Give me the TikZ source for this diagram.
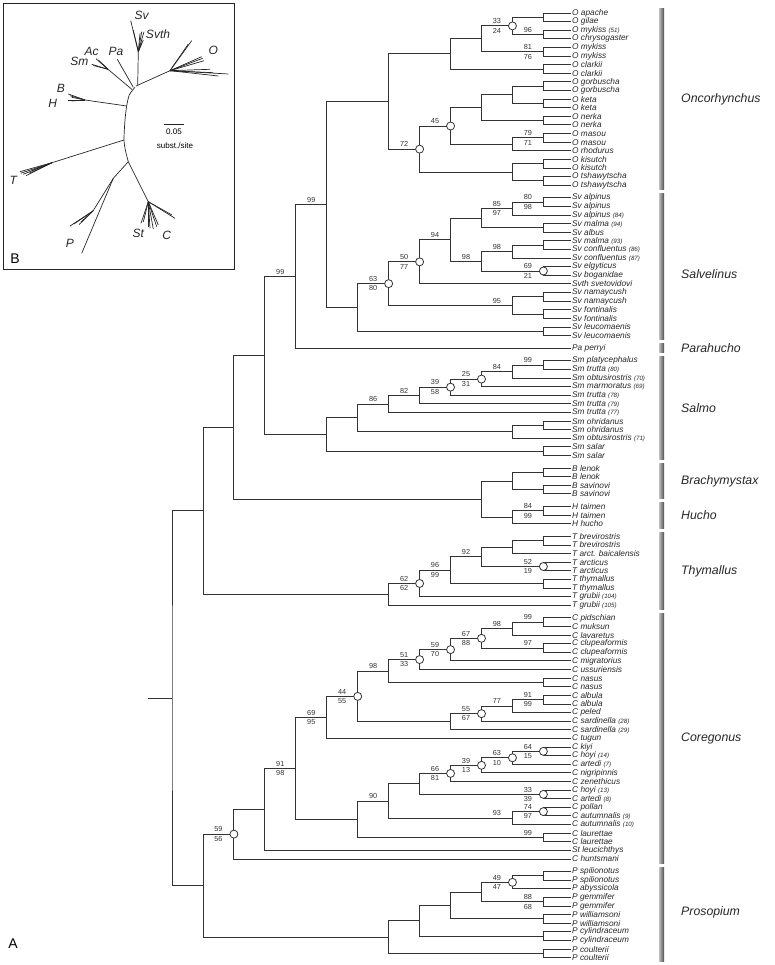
\documentclass[tikz,border=0pt]{standalone}
\usepackage{fontspec}
\setmainfont{Liberation Sans}
\usetikzlibrary{calc}

\newcommand{\leaffont}{\fontsize{8.3}{9}\selectfont\itshape}
\newcommand{\bsfont}{\fontsize{7.3}{8}\selectfont}
\newcommand{\genusfont}{\fontsize{12.3}{14}\selectfont\itshape}
\newcommand{\insetfont}{\fontsize{12}{14}\selectfont\itshape}
\newcommand{\tagnum}[1]{{\fontsize{6.2}{7}\selectfont(#1)}}
% clade: name, level, upper child, lower child
\newcommand{\clade}[4]{%
  \path let \p1=(#3), \p2=(#4) in (172pt+30.95pt*#2,{0.5*(\y1)+0.5*(\y2)}) coordinate (#1);
  \draw[br] (#3) -| (#1) |- (#4);}
\newcommand{\bsl}[3]{%
  \node[bs] (#1a) at ([xshift=-15.5pt,yshift=4.8pt]#1) {#2};
  \node[bs] (#1b) at ([xshift=-15.5pt,yshift=-4.8pt]#1) {#3};}
\newcommand{\bst}[2]{\node[bs] (#1a) at ([xshift=-15.5pt,yshift=4.8pt]#1) {#2};}

\begin{document}
\begin{tikzpicture}[x=1pt,y=-1pt,
  br/.style={line width=0.9pt, draw=black!80},
  leaf/.style={anchor=west, inner sep=1pt, font=\leaffont, text=black!85},
  bs/.style={inner sep=0pt, font=\bsfont, text=black!80},
  bsdot/.style={circle, draw=black!80, fill=white, line width=0.8pt, minimum size=8pt, inner sep=0pt},
  gbar/.style={left color=black!25, right color=black!70},
  genus/.style={anchor=west, inner sep=0pt, font=\genusfont, text=black!85},
  twig/.style={line width=0.7pt, draw=black!85},
  lab/.style={inner sep=0pt, font=\insetfont, text=black!85},
]
\useasboundingbox (0,0) rectangle (774,965);

% leaves, with a small gap between genera
\foreach \leafname [count=\i from 0] in {O apache, O gilae, O mykiss \tagnum{51}, O chrysogaster,
  O mykiss, O mykiss, O clarkii, O clarkii, O gorbuscha, O gorbuscha, O keta, O keta,
  O nerka, O nerka, O masou, O masou, O rhodurus, O kisutch, O kisutch, O tshawytscha,
  O tshawytscha, Sv alpinus, Sv alpinus, Sv alpinus \tagnum{84}, Sv malma \tagnum{94},
  Sv albus, Sv malma \tagnum{93}, Sv confluentus \tagnum{86}, Sv confluentus \tagnum{87},
  Sv elgyticus, Sv boganidae, Svth svetovidovi, Sv namaycush, Sv namaycush, Sv fontinalis,
  Sv fontinalis, Sv leucomaenis, Sv leucomaenis, Pa perryi, Sm platycephalus,
  Sm trutta \tagnum{80}, Sm obtusirostris \tagnum{70}, Sm marmoratus \tagnum{69},
  Sm trutta \tagnum{78}, Sm trutta \tagnum{79}, Sm trutta \tagnum{77}, Sm ohridanus,
  Sm ohridanus, Sm obtusirostris \tagnum{71}, Sm salar, Sm salar, B lenok, B lenok,
  B savinovi, B savinovi, H taimen, H taimen, H hucho, T brevirostris, T brevirostris,
  T arct. baicalensis, T arcticus, T arcticus, T thymallus, T thymallus, T grubii \tagnum{104},
  T grubii \tagnum{105}, C pidschian, C muksun, C lavaretus, C clupeaformis, C clupeaformis,
  C migratorius, C ussuriensis, C nasus, C nasus, C albula, C albula, C peled,
  C sardinella \tagnum{28}, C sardinella \tagnum{29}, C tugun, C kiyi, C hoyi \tagnum{14},
  C artedi \tagnum{7}, C nigripinnis, C zenethicus, C hoyi \tagnum{13}, C artedi \tagnum{8},
  C pollan, C autumnalis \tagnum{9}, C autumnalis \tagnum{10}, C laurettae, C laurettae,
  St leucichthys, C huntsmani, P spilionotus, P spilionotus, P abyssicola, P gemmifer,
  P gemmifer, P williamsoni, P williamsoni, P cylindraceum, P cylindraceum, P coulterii,
  P coulterii}
  \node[leaf] (l\i) at (571,{13+8.61*\i+4*((\i>=21)+(\i>=38)+(\i>=39)+(\i>=51)+(\i>=55)+(\i>=58)+(\i>=67)+(\i>=96))}) {\leafname};

% Oncorhynchus
\clade{c01}{12}{l0}{l1}
\clade{c23}{12}{l2}{l3}
\clade{oA1}{11}{c01}{c23}
\clade{c45}{12}{l4}{l5}
\clade{oA2}{10}{oA1}{c45}
\clade{c67}{12}{l6}{l7}
\clade{oA3}{9}{oA2}{c67}
\clade{c89}{12}{l8}{l9}
\clade{c1011}{12}{l10}{l11}
\clade{oC1}{11}{c89}{c1011}
\clade{c1213}{12}{l12}{l13}
\clade{oC2}{10}{oC1}{c1213}
\clade{c1415}{12}{l14}{l15}
\clade{oD}{11}{c1415}{l16}
\clade{o45}{9}{oC2}{oD}
\clade{c1718}{12}{l17}{l18}
\clade{c1920}{12}{l19}{l20}
\clade{oE}{11}{c1718}{c1920}
\clade{o72}{8}{o45}{oE}
\clade{oB}{7}{oA3}{o72}
% Salvelinus
\clade{c2122}{12}{l21}{l22}
\clade{s85}{11}{c2122}{l23}
\clade{c2425}{12}{l24}{l25}
\clade{s10}{10}{s85}{c2425}
\clade{c2627}{12}{l26}{l27}
\clade{s98a}{11}{c2627}{l28}
\clade{c2930}{12}{l29}{l30}
\clade{s98b}{10}{s98a}{c2930}
\clade{s94}{9}{s10}{s98b}
\clade{s50}{8}{s94}{l31}
\clade{c3233}{12}{l32}{l33}
\clade{c3435}{12}{l34}{l35}
\clade{s95}{11}{c3233}{c3435}
\clade{s63}{7}{s50}{s95}
\clade{c3637}{12}{l36}{l37}
\clade{s0}{6}{s63}{c3637}
\clade{os}{5}{oB}{s0}
\clade{pos}{4}{os}{l38}
% Salmo
\clade{c3940}{12}{l39}{l40}
\clade{m84}{11}{c3940}{l41}
\clade{m25}{10}{m84}{l42}
\clade{m39}{9}{m25}{l43}
\clade{m82}{8}{m39}{l44}
\clade{m86}{7}{m82}{l45}
\clade{c4647}{12}{l46}{l47}
\clade{mN}{11}{c4647}{l48}
\clade{m1}{6}{m86}{mN}
\clade{c4950}{12}{l49}{l50}
\clade{m0}{5}{m1}{c4950}
\clade{n3}{3}{pos}{m0}
% Brachymystax, Hucho
\clade{c5152}{12}{l51}{l52}
\clade{c5354}{12}{l53}{l54}
\clade{b0}{11}{c5152}{c5354}
\clade{c5556}{12}{l55}{l56}
\clade{h0}{11}{c5556}{l57}
\clade{bh}{10}{b0}{h0}
\clade{n2}{2}{n3}{bh}
% Thymallus
\clade{c5859}{12}{l58}{l59}
\clade{t1}{11}{c5859}{l60}
\clade{c6162}{12}{l61}{l62}
\clade{t92}{10}{t1}{c6162}
\clade{c6364}{12}{l63}{l64}
\clade{t96}{9}{t92}{c6364}
\clade{t62}{8}{t96}{l65}
\clade{t0}{7}{t62}{l66}
\clade{n1}{1}{n2}{t0}
% Coregonus
\clade{c6768}{12}{l67}{l68}
\clade{g98}{11}{c6768}{l69}
\clade{c7071}{12}{l70}{l71}
\clade{g67}{10}{g98}{c7071}
\clade{g59}{9}{g67}{l72}
\clade{g51}{8}{g59}{l73}
\clade{c7475}{12}{l74}{l75}
\clade{g98b}{7}{g51}{c7475}
\clade{c7677}{12}{l76}{l77}
\clade{g77}{11}{c7677}{l78}
\clade{g55}{10}{g77}{l79}
\clade{g9}{9}{g55}{l80}
\clade{g44}{6}{g98b}{g9}
\clade{g5}{5}{g44}{l81}
\clade{c8283}{12}{l82}{l83}
\clade{g63}{11}{c8283}{l84}
\clade{g39}{10}{g63}{l85}
\clade{g66}{9}{g39}{l86}
\clade{c8788}{12}{l87}{l88}
\clade{g8}{8}{g66}{c8788}
\clade{c8990}{12}{l89}{l90}
\clade{g93}{11}{c8990}{l91}
\clade{g90}{7}{g8}{g93}
\clade{c9293}{12}{l92}{l93}
\clade{g6}{6}{g90}{c9293}
\clade{g4}{4}{g5}{g6}
\clade{g3}{3}{g4}{l94}
\clade{gC}{2}{g3}{l95}
% Prosopium
\clade{c9697}{12}{l96}{l97}
\clade{p49}{11}{c9697}{l98}
\clade{c99100}{12}{l99}{l100}
\clade{p10}{10}{p49}{c99100}
\clade{c101102}{12}{l101}{l102}
\clade{p9}{9}{p10}{c101102}
\clade{c103104}{12}{l103}{l104}
\clade{p8}{8}{p9}{c103104}
\clade{c105106}{12}{l105}{l106}
\clade{p7}{7}{p8}{c105106}
\clade{cp}{1}{gC}{p7}
\clade{root}{0}{n1}{cp}
\coordinate (stem) at ([xshift=-24pt]root);
\draw[br] (stem) -- (root);

% open circles
\foreach \n in {oA1,o45,o72,s50,s63,c2930,m25,m39,c6162,t62,g67,g59,g51,g55,g44,
  c8283,g63,g39,g66,c8788,c8990,gC,p49}
  \node[bsdot] (\n o) at (\n) {};

% support values
\bsl{oA1}{33}{24} \bst{c23}{96} \bsl{c45}{81}{76} \bst{o45}{45} \bst{o72}{72}
\bsl{c1415}{79}{71}
\bsl{c2122}{80}{98} \bsl{s85}{85}{97} \bst{s98a}{98} \bst{s98b}{98} \bsl{c2930}{69}{21}
\bst{s94}{94} \bsl{s50}{50}{77} \bst{s95}{95} \bsl{s63}{63}{80} \bst{os}{99} \bst{pos}{99}
\bst{c3940}{99} \bst{m84}{84} \bsl{m25}{25}{31} \bsl{m39}{39}{58} \bst{m82}{82} \bst{m86}{86}
\bsl{c5556}{84}{99}
\bst{t92}{92} \bsl{c6162}{52}{19} \bsl{t96}{96}{99} \bsl{t62}{62}{62}
\bst{c6768}{99} \bst{g98}{98} \bst{c7071}{97} \bsl{g67}{67}{88} \bsl{g59}{59}{70}
\bsl{g51}{51}{33} \bst{g98b}{98} \bsl{c7677}{91}{99} \bst{g77}{77} \bsl{g55}{55}{67}
\bsl{g44}{44}{55} \bsl{g5}{69}{95} \bsl{c8283}{64}{15} \bsl{g63}{63}{10} \bsl{g39}{39}{13}
\bsl{g66}{66}{81} \bsl{c8788}{33}{39} \bsl{c8990}{74}{97} \bst{g93}{93} \bst{g90}{90}
\bst{c9293}{99} \bsl{g4}{91}{98} \bsl{gC}{59}{56}
\bsl{p49}{49}{47} \bsl{c99100}{88}{68}

% genus bars
\foreach \a/\b/\g/\gy in {0/20/Oncorhynchus/99, 21/37/Salvelinus/274, 38/38/Parahucho/348,
  39/50/Salmo/408, 51/54/Brachymystax/481, 55/57/Hucho/515, 58/66/Thymallus/571,
  67/95/Coregonus/738, 96/106/Prosopium/912} {
  \fill[gbar] let \p1=(l\a), \p2=(l\b) in (659pt,{\y1+4.3pt}) rectangle (664pt,{\y2-4.3pt});
  \node[genus] (\g) at (681,\gy) {\g};
}

% panel B
\draw[line width=0.8pt, black!85] (3.5,3.5) rectangle (234,269);
\draw[twig] plot[smooth] coordinates {(135,87.3) (129.3,95) (126.7,106) (125,120) (124,140) (125.7,151.7) (128.3,161.7)};
\draw[twig] (136,86) -- (170,70.7);
\foreach \p in {(191.7,40.7),(188.3,44),(201.7,56.7),(202.7,58.3),(204,60.7),(210,69.3),(228.3,74),(218.3,76),(213.3,72.7)}
  \draw[twig] (170,70.7) -- \p;
\draw[twig] (137.7,85) -- (138.3,51.7);
\foreach \p in {(130.7,20.7),(133.3,30),(140,33.3),(141.7,31.7),(144,31.7),(143.3,40),(141.7,42.7)}
  \draw[twig] (138.3,51.7) -- \p;
\draw[twig] (133.3,87.3) -- (117.3,59.3);
\draw[twig] (132,89.5) -- (108,69.3);
\foreach \p in {(96,58.7),(98.3,60),(100,62),(91.7,64.3),(93.3,65.5)}
  \draw[twig] (108,69.3) -- \p;
\draw[twig] (126.7,106) -- (85,100);
\foreach \p in {(68.3,94),(70,95.7),(71.7,97.3),(68.3,100),(71.7,101)}
  \draw[twig] (85,100) -- \p;
\draw[twig] (124,140) -- (52,162.7);
\foreach \p in {(20,171.7),(20.7,173.3),(23.3,174.3),(26,175.7),(29.3,173.3),(31.7,170.7)}
  \draw[twig] (52,162.7) -- \p;
\draw[twig] (128.3,161.7) -- (113.3,178.3) -- (81.7,253.3);
\draw[twig] (113.3,178.3) -- (93,211);
\foreach \p in {(70,226),(74,224),(79,224.7),(81,222)}
  \draw[twig] (93,211) -- \p;
\draw[twig] (128.3,161.7) -- (148.3,201.7);
\foreach \p in {(141,223.3),(143.3,222),(148.3,227),(150,228.3),(153.3,229),(156.7,226.7),(158.3,225),(175,218.3),(172,215)}
  \draw[twig] (148.3,201.7) -- \p;
\node[lab] (labSv) at (141.7,15.3) {Sv};
\node[lab] (labSvth) at (158,34) {Svth};
\node[lab] (labO) at (213.3,50) {O};
\node[lab] (labPa) at (116,51.5) {Pa};
\node[lab] (labAc) at (91.7,51.7) {Ac};
\node[lab] (labSm) at (79.3,61) {Sm};
\node[lab] (labB) at (61,88.3) {B};
\node[lab] (labH) at (52.7,103.3) {H};
\node[lab] (labT) at (13.3,180) {T};
\node[lab] (labP) at (70,243.3) {P};
\node[lab] (labSt) at (138.3,233.3) {St};
\node[lab] (labC) at (166.7,235) {C};
\coordinate (sbl) at (164.3,124.7);
\coordinate (sbr) at (184,124.7);
\draw[twig] (sbl) -- (sbr);
\node[inner sep=0pt, font=\fontsize{8}{9}\selectfont] (sbval) at (174,131.5) {0.05};
\node[inner sep=0pt, font=\fontsize{8}{9}\selectfont] (sbunit) at (175,145.7) {subst./site};
\node[inner sep=0pt, font=\fontsize{14}{16}\selectfont] (panelB) at (15,258.3) {B};
\node[inner sep=0pt, font=\fontsize{14}{16}\selectfont] (panelA) at (13,944) {A};
\end{tikzpicture}
\end{document}
